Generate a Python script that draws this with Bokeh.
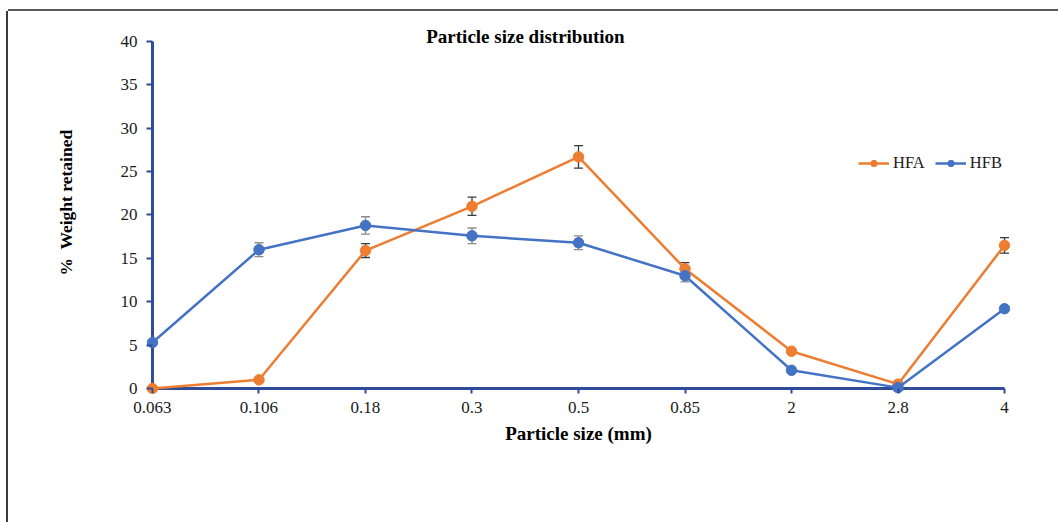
import math
from bokeh.plotting import figure
from bokeh.models import (ColumnDataSource, Range1d, FixedTicker, Whisker, TeeHead,
                          Label, Legend, LegendItem)
from bokeh.embed import file_html
from bokeh.resources import INLINE

# ---- data ----
categories = ["0.063", "0.106", "0.18", "0.3", "0.5", "0.85", "2", "2.8", "4"]
hfa = [0.0, 1.0, 15.9, 21.0, 26.7, 13.8, 4.3, 0.5, 16.5]
hfb = [5.3, 16.0, 18.8, 17.6, 16.8, 13.0, 2.1, 0.1, 9.2]
hfa_err = [0.0, 0.0, 0.8, 1.05, 1.3, 0.7, 0.0, 0.0, 0.9]
hfb_err = [0.0, 0.8, 1.0, 0.9, 0.8, 0.7, 0.0, 0.0, 0.0]
y_ticks = [0, 5, 10, 15, 20, 25, 30, 35, 40]

title_text = "Particle size distribution"
x_title = "Particle size (mm)"
y_title = "%\u00a0 Weight retained"

ORANGE = "#ED7D31"
BLUE = "#4472C4"
AXIS = "#2F4B9A"
SERIF = "Liberation Serif"

xs = list(range(len(categories)))

p = figure(width=1050, height=511, output_backend="svg", toolbar_location=None,
           x_range=Range1d(-0.0563, 8.0563), y_range=Range1d(-0.5764, 43.458),
           min_border_left=138, min_border_right=48, min_border_top=0,
           min_border_bottom=129)
p.styles = {"margin-top": "11px", "margin-left": "8px",
            "box-shadow": "-2px 0 0 0 #3a3a3a, 0 -2px 0 0 #595959"}
p.background_fill_color = "white"
p.border_fill_color = "white"
p.outline_line_color = None
p.xgrid.visible = False
p.ygrid.visible = False

# axes (ticks + labels from Bokeh axes; axis lines drawn at the data origin)
for ax in (p.xaxis[0], p.yaxis[0]):
    ax.axis_line_color = None
    ax.major_tick_line_color = AXIS
    ax.major_tick_line_width = 2
    ax.major_tick_out = 0
    ax.minor_tick_line_color = None
    ax.major_label_text_font = SERIF
    ax.major_label_text_font_size = "17px"
    ax.major_label_text_color = "#1a1a1a"
    ax.axis_label_text_font = SERIF
    ax.axis_label_text_font_style = "bold"
    ax.axis_label_text_color = "#000000"

p.xaxis.ticker = FixedTicker(ticks=xs)
p.xaxis.major_label_overrides = {i: c for i, c in zip(xs, categories)}
p.xaxis.major_tick_in = 5
p.xaxis.major_label_standoff = 8
p.xaxis.axis_label = x_title
p.xaxis.axis_label_text_font_size = "19px"
p.xaxis.axis_label_standoff = 7

p.yaxis.ticker = FixedTicker(ticks=y_ticks)
p.yaxis.major_tick_in = 6
p.yaxis.major_label_standoff = 9
p.yaxis.axis_label = y_title
p.yaxis.axis_label_text_font_size = "17.5px"
p.yaxis.axis_label_standoff = 42

# axis lines along x = first category and y = 0
p.segment(x0=[xs[0], xs[0]], y0=[y_ticks[0], y_ticks[0]],
          x1=[xs[0], xs[-1]], y1=[y_ticks[-1], y_ticks[0]],
          line_color=AXIS, line_width=3)

# error bars
src_a = ColumnDataSource(dict(x=xs, y=hfa,
                              lo=[v - e for v, e in zip(hfa, hfa_err)],
                              hi=[v + e for v, e in zip(hfa, hfa_err)]))
src_b = ColumnDataSource(dict(x=xs, y=hfb,
                              lo=[v - e for v, e in zip(hfb, hfb_err)],
                              hi=[v + e for v, e in zip(hfb, hfb_err)]))

for src, col in ((src_b, "#8c8c8c"), (src_a, "#3a3a3a")):
    w = Whisker(source=src, base="x", upper="hi", lower="lo", dimension="height",
                line_color=col, line_width=1.3, level="underlay",
                upper_head=TeeHead(size=9, line_color=col, line_width=1.3),
                lower_head=TeeHead(size=9, line_color=col, line_width=1.3))
    p.add_layout(w)

# series
la = p.line("x", "y", source=src_a, line_color=ORANGE, line_width=2.5)
sa = p.scatter("x", "y", source=src_a, size=10.5, fill_color=ORANGE, line_color=ORANGE)
lb = p.line("x", "y", source=src_b, line_color=BLUE, line_width=2.5)
sb = p.scatter("x", "y", source=src_b, size=10.5, fill_color=BLUE, line_color=BLUE)

legend = Legend(items=[LegendItem(label="HFA", renderers=[la, sa]),
                       LegendItem(label="HFB", renderers=[lb, sb])],
                orientation="horizontal", location=(712, 220),
                label_text_font=SERIF, label_text_font_size="16.5px",
                label_text_color="#1a1a1a",
                glyph_width=31, glyph_height=16, label_standoff=4, spacing=10,
                padding=0, margin=0, border_line_alpha=0, background_fill_alpha=0)
p.add_layout(legend)

# chart title
p.add_layout(Label(x=3.502, y=40.58, text=title_text, text_font=SERIF,
                   text_font_size="19px", text_font_style="bold",
                   text_align="center", text_baseline="alphabetic",
                   text_color="#000000"))

open("out.html", "w").write(file_html(p, INLINE))
